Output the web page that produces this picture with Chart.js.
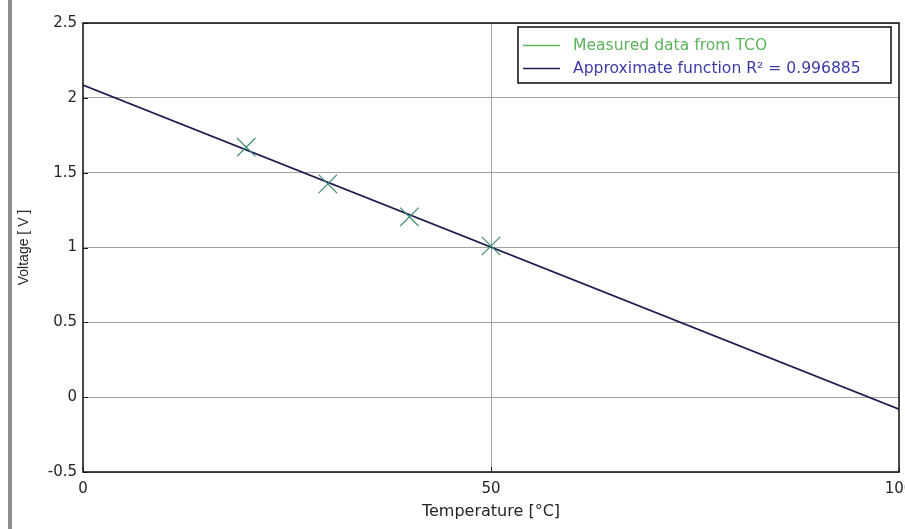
<!DOCTYPE html>
<html>
<head>
<meta charset="utf-8">
<title>Voltage vs temperature</title>
<script src="https://cdn.jsdelivr.net/npm/chart.js@4/dist/chart.umd.min.js"></script>
<style>
 html,body{margin:0;padding:0;background:#fff;overflow:hidden;width:905px;height:529px}
 #wrap{position:relative;width:905px;height:529px}
 #c{position:absolute;left:0;top:0}
 #edge{position:absolute;left:8px;top:0;width:4px;height:529px;background:#8e8e8e}
</style>
</head>
<body>
<div id="wrap">
 <canvas id="c" width="925" height="529"></canvas>
 <div id="edge"></div>
</div>
<script>
/* measured points (TCO) */
const tempC   = [20, 30, 40, 50];
const voltage = [1.67, 1.425, 1.205, 1.01];
/* linear fit, drawn end to end */
const fitTemp = [0, 100];
const fitVolt = [2.085, -0.08];
/* axes */
const xTicks = [0, 50, 100];
const yTicks = [-0.5, 0, 0.5, 1, 1.5, 2, 2.5];
const labels = ["Measured data from TCO", "Approximate function R\u00b2 = 0.996885"];

const GREEN_MARK = "#3f8a74", GREEN_TXT = "#5cb35c";
const NAVY = "#1c1c52", BLUE_TXT = "#3a3aa8";

Chart.defaults.font.family = "'DejaVu Sans', sans-serif";
Chart.defaults.color = "#262626";

/* axes frame + inward tick marks */
const frame = {
 id: "frame",
 afterDatasetsDraw(chart){
  const {ctx, chartArea: a, scales: {x, y}} = chart;
  ctx.save();
  ctx.strokeStyle = "#1a1a1a"; ctx.lineWidth = 1;
  ctx.beginPath();
  xTicks.forEach(v => { const px = Math.round(x.getPixelForValue(v)) + .5; ctx.moveTo(px, a.bottom); ctx.lineTo(px, a.bottom - 5); });
  yTicks.forEach(v => { const py = Math.round(y.getPixelForValue(v)) + .5; ctx.moveTo(a.left, py); ctx.lineTo(a.left + 5, py); });
  ctx.stroke();
  ctx.lineWidth = 1.6;
  ctx.strokeRect(a.left, a.top, a.right - a.left, a.bottom - a.top);
  ctx.restore();
 }
};

/* boxed legend in the top right corner */
const boxLegend = {
 id: "boxLegend",
 afterDraw(chart){
  const {ctx} = chart;
  const bx = 518, by = 27, bw = 373, bh = 56;
  ctx.save();
  ctx.fillStyle = "#fff"; ctx.fillRect(bx, by, bw, bh);
  ctx.strokeStyle = "#1a1a1a"; ctx.lineWidth = 1.6; ctx.strokeRect(bx, by, bw, bh);
  const rows = [[GREEN_TXT, GREEN_TXT, 45], [NAVY, BLUE_TXT, 68]];
  ctx.font = "15.6px 'DejaVu Sans', sans-serif";
  ctx.textBaseline = "middle";
  rows.forEach(([lc, tc, ry], i) => {
   ctx.strokeStyle = lc; ctx.lineWidth = 1.3;
   ctx.beginPath(); ctx.moveTo(523, ry + .5); ctx.lineTo(560, ry + .5); ctx.stroke();
   ctx.fillStyle = tc; ctx.fillText(chart.data.datasets[i].label, 573, ry + 1);
  });
  ctx.restore();
 }
};

new Chart(document.getElementById("c"), {
 type: "scatter",
 data: {
  datasets: [
   { label: labels[0], data: tempC.map((t, i) => ({x: t, y: voltage[i]})),
     showLine: false, pointStyle: "crossRot", pointRadius: 13, pointHoverRadius: 13,
     borderColor: GREEN_MARK, backgroundColor: GREEN_MARK, pointBorderWidth: 1.2 },
   { label: labels[1], data: fitTemp.map((t, i) => ({x: t, y: fitVolt[i]})),
     showLine: true, pointRadius: 0, borderColor: NAVY, borderWidth: 1.6, tension: 0 }
  ]
 },
 options: {
  responsive: false, animation: false,
  layout: { padding: { left: 0, top: 23, right: 26, bottom: 0 } },
  plugins: { legend: { display: false }, tooltip: { enabled: false } },
  scales: {
   x: {
    type: "linear", min: 0, max: 100,
    afterBuildTicks: s => { s.ticks = xTicks.map(v => ({value: v})); },
    afterFit: s => { s.height = 57; },
    ticks: { padding: 8, font: { size: 15 }, callback: v => String(v) },
    grid: { drawTicks: false, color: c => (c.tick && c.tick.value === 50) ? "#a3a3a3" : "rgba(0,0,0,0)" },
    border: { display: false },
    title: { display: true, text: "Temperature [\u00b0C]", font: { size: 16 }, padding: { top: 0, bottom: 8 } }
   },
   y: {
    type: "linear", min: -0.5, max: 2.5,
    afterBuildTicks: s => { s.ticks = yTicks.map(v => ({value: v})); },
    afterFit: s => { s.width = 83; },
    ticks: { padding: 6, font: { size: 15 }, callback: v => String(v) },
    grid: { drawTicks: false, color: "#a3a3a3" },
    border: { display: false },
    title: { display: true, text: "Voltage [ V ]", font: { family: "'Liberation Sans', Arial, sans-serif", size: 14 }, padding: { top: 16, bottom: 0 } }
   }
  }
 },
 plugins: [frame, boxLegend]
});
</script>
</body>
</html>
